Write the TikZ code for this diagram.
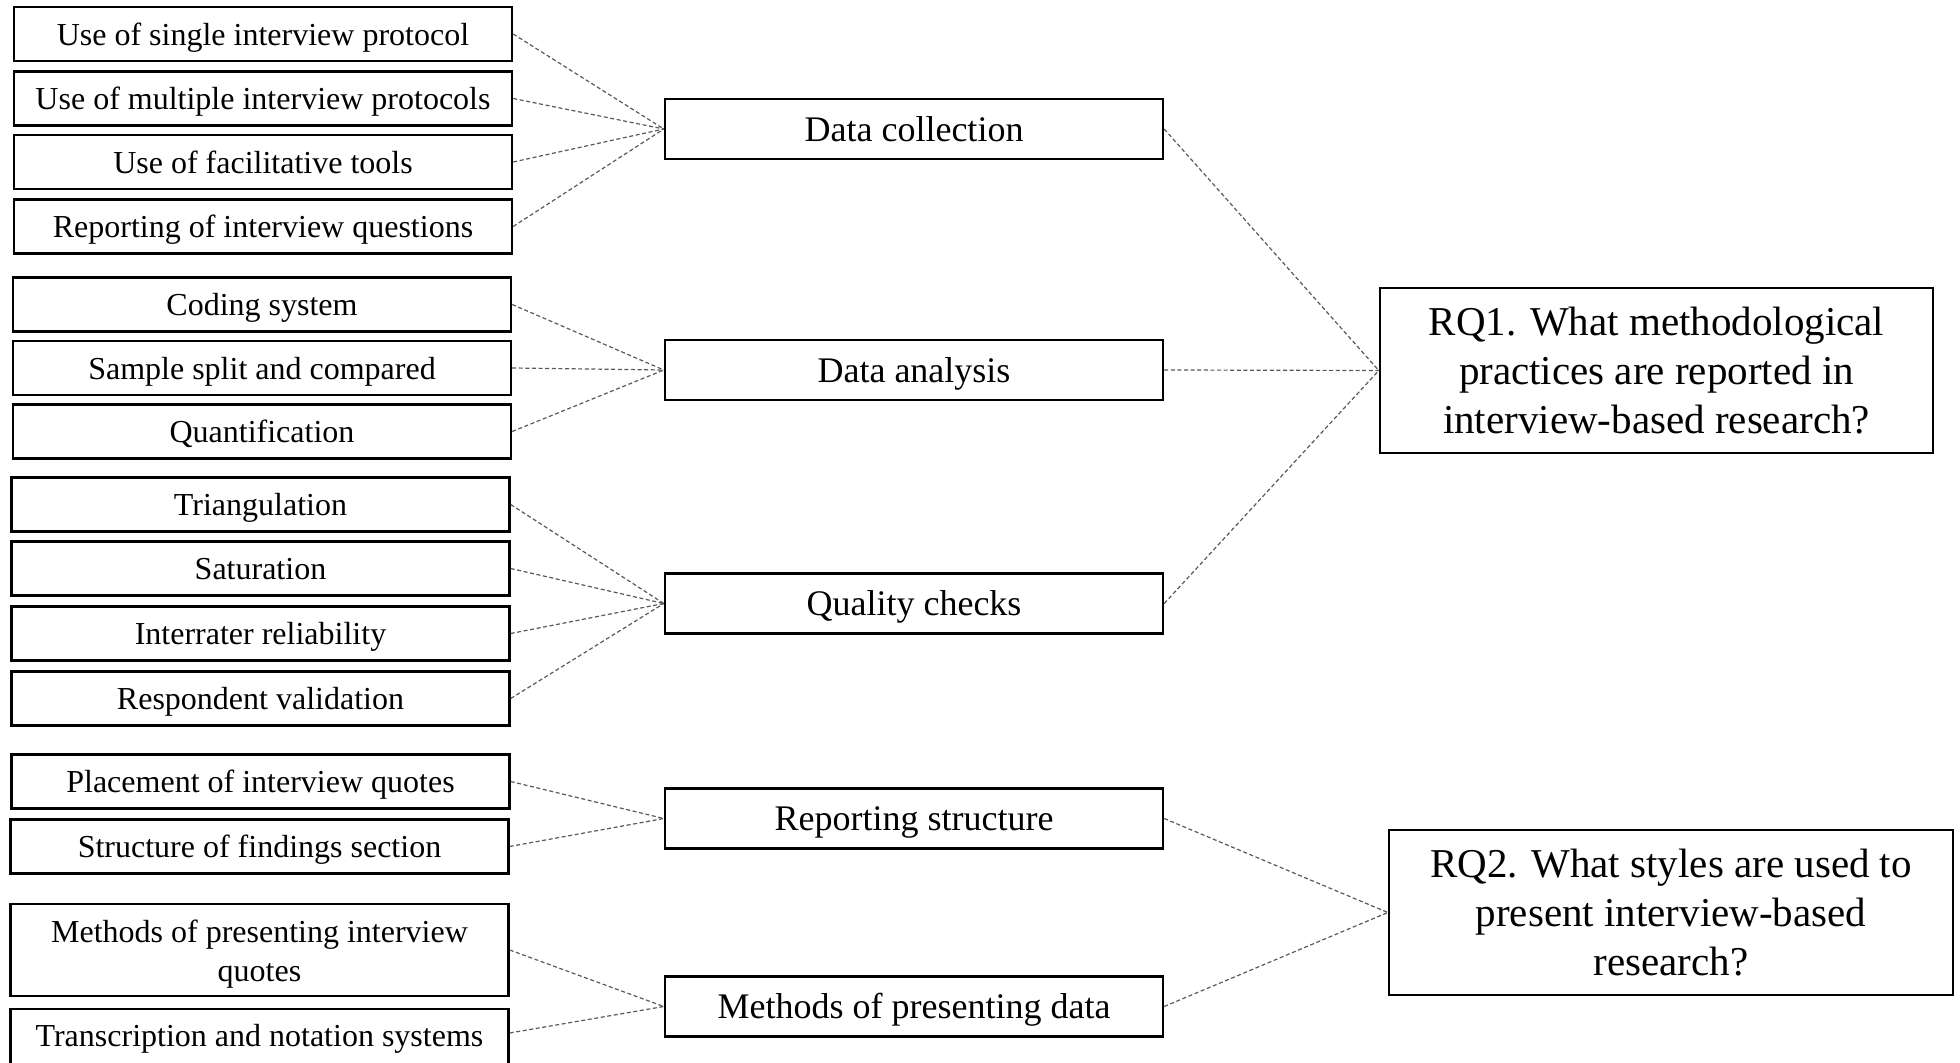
\documentclass[tikz,border=0pt]{standalone}
\usepackage{fontspec}
\setmainfont{Liberation Serif}
% lower a label a little inside its box, keeping the box size
\newcommand\lowtxt[1]{\raisebox{-2pt}[\height][\depth]{#1}}
\begin{document}
\begin{tikzpicture}[x=0.5pt,y=-0.5pt,
  box/.style={draw=black, line width=1.2pt, inner sep=0pt, align=center},
  itembox/.style={box, minimum width=249pt, minimum height=27pt,
    font=\fontsize{16}{19.4}\selectfont},
  item/.style={itembox, text height=12.9pt, text depth=1.46pt},
  topic/.style={box, minimum width=249pt, minimum height=30pt,
    font=\fontsize{18}{21.6}\selectfont, text height=14.2pt, text depth=1.8pt},
  question/.style={box, minimum height=82.5pt,
    font=\fontsize{20.5}{24.5}\selectfont},
  link/.style={draw=black!65, line width=0.6pt, dash pattern=on 2pt off 1.3pt}]

\useasboundingbox (0,0) rectangle (1960,1063);
\clip (0,0) rectangle (1960,1063);

% practice items
\node[item] (i1)  at (263,34)    {Use of single interview protocol};
\node[item] (i2)  at (263,98.5)  {Use of multiple interview protocols};
\node[item] (i3)  at (263,162)   {Use of facilitative tools};
\node[item] (i4)  at (263,226.5) {Reporting of interview questions};
\node[item] (i5)  at (262,304.5) {Coding system};
\node[item] (i6)  at (262,368)   {Sample split and compared};
\node[item] (i7)  at (262,431.5) {Quantification};
\node[item] (i8)  at (260.5,504.5) {Triangulation};
\node[item] (i9)  at (260.5,568.5) {Saturation};
\node[item] (i10) at (260.5,633.5) {Interrater reliability};
\node[item] (i11) at (260.5,698.5) {Respondent validation};
\node[item] (i12) at (260.5,781.5) {Placement of interview quotes};
\node[item] (i13) at (259.5,846.5) {Structure of findings section};
\node[itembox, minimum height=46pt] (i14) at (259.5,950)
  {\lowtxt{\begin{tabular}{@{}c@{}}Methods of presenting interview\\quotes\end{tabular}}};
\node[itembox, minimum height=30pt] (i15) at (259.5,1039) {Transcription and notation systems};

% topics
\node[topic] (dc)  at (914,129)    {Data collection};
\node[topic] (da)  at (914,370)    {Data analysis};
\node[topic] (qc)  at (914,603.5)  {Quality checks};
\node[topic] (rs)  at (914,818.5)  {Reporting structure};
\node[topic] (mpd) at (914,1006.5) {Methods of presenting data};

% research questions
\node[question, minimum width=276.5pt] (rq1) at (1656.5,370.5)
  {RQ1. What methodological\\practices are reported in\\interview-based research?};
\node[question, minimum width=282pt] (rq2) at (1671,912.5)
  {RQ2. What styles are used to\\present interview-based\\research?};

% links from items to topics
\foreach \a in {i1,i2,i3,i4} \draw[link] (\a.east) -- (dc.west);
\foreach \a in {i5,i6,i7} \draw[link] (\a.east) -- (da.west);
\foreach \a in {i8,i9,i10,i11} \draw[link] (\a.east) -- (qc.west);
\foreach \a in {i12,i13} \draw[link] (\a.east) -- (rs.west);
\draw[link] (i14.east) -- (mpd.west);
\draw[link] ([yshift=3pt]i15.east) -- (mpd.west);

% links from topics to research questions
\foreach \a in {dc,da,qc} \draw[link] (\a.east) -- (rq1.west);
\foreach \a in {rs,mpd} \draw[link] (\a.east) -- (rq2.west);
\end{tikzpicture}
\end{document}
